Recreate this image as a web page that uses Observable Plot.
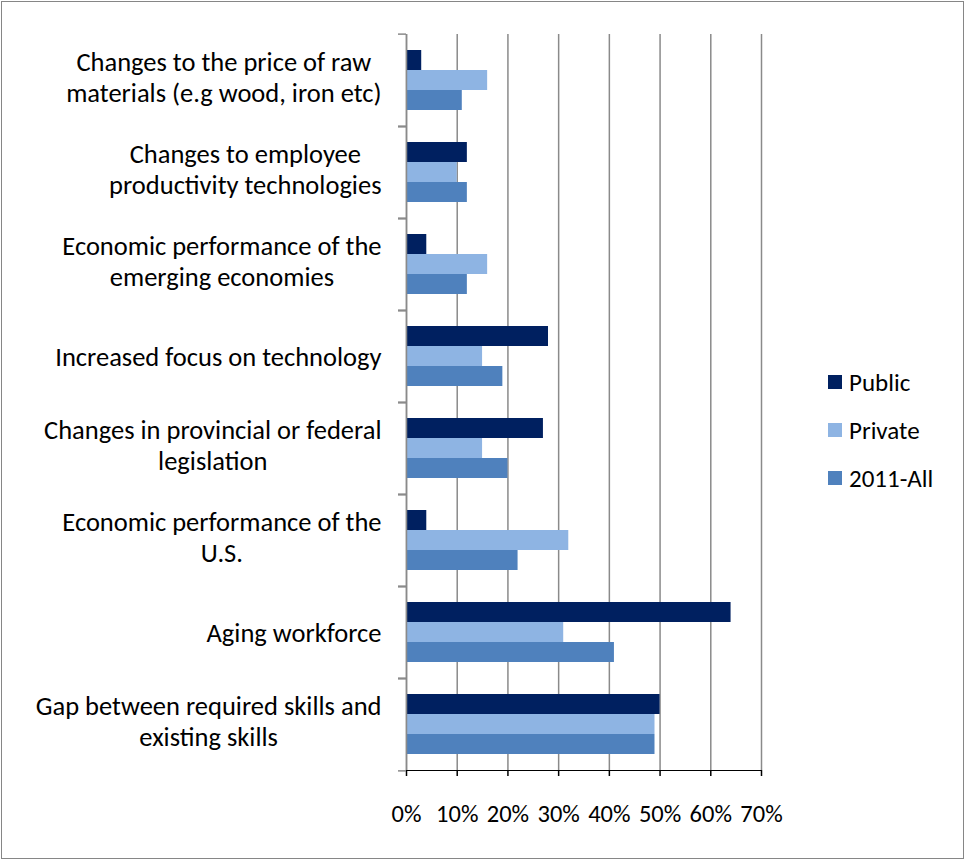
<!DOCTYPE html>
<html>
<head>
<meta charset="utf-8">
<script src="https://cdn.jsdelivr.net/npm/d3@7"></script>
<script src="https://cdn.jsdelivr.net/npm/@observablehq/plot@0.6"></script>
<style>
  html, body { margin: 0; padding: 0; background: #fff; }
  #wrap { position: relative; width: 965px; height: 861px; font-family: Carlito, Calibri, Lato, sans-serif; }
  #border { position: absolute; left: 1px; top: 1px; width: 961px; height: 856px; border: 1.5px solid #868686; pointer-events: none; }
  #legend { position: absolute; left: 828px; top: 358px; font-size: 25px; color: #000; }
  .item { display: flex; align-items: center; height: 48px; }
  .sw { width: 14px; height: 14px; margin-right: 7px; }
</style>
</head>
<body>
<div id="wrap">
  <div id="chart"></div>
  <div id="legend"></div>
  <div id="border"></div>
</div>
<script>
const categories = [
  "Changes to the price of raw\nmaterials (e.g wood, iron etc)",
  "Changes to employee\nproductivity technologies",
  "Economic performance of the\nemerging economies",
  "Increased focus on technology",
  "Changes in provincial or federal\nlegislation",
  "Economic performance of the\nU.S.",
  "Aging workforce",
  "Gap between required skills and\nexisting skills"
];
const series = ["Public", "Private", "2011-All"];
const publicValues  = [3, 12, 4, 28, 27, 4, 64, 50];
const privateValues = [16, 10, 16, 15, 15, 32, 31, 49];
const allValues     = [11, 12, 12, 19, 20, 22, 41, 49];
const xTicks = [0, 0.1, 0.2, 0.3, 0.4, 0.5, 0.6, 0.7];
const colors = ["#002060", "#8EB4E3", "#4F81BD"];

const seriesValues = [publicValues, privateValues, allValues];
const data = categories.flatMap((c, i) =>
  series.map((s, j) => ({category: c, series: s, value: seriesValues[j][i] / 100}))
);

const H = 861, mt = 31, mb = 88;
const half = (H - mt - mb) / categories.length / 2;

const chart = Plot.plot({
  width: 965,
  height: H,
  marginLeft: 406,
  marginRight: 204,
  marginTop: mt,
  marginBottom: mb,
  style: {fontFamily: "Carlito, Calibri, Lato, sans-serif", fontSize: "24.5px", color: "#000", background: "transparent"},
  x: {domain: [0, 0.7], ticks: xTicks, tickFormat: d3.format(".0%"), line: true, tickSize: 6, tickPadding: 28, label: null},
  y: {domain: series, axis: null, paddingInner: 0, paddingOuter: 0.7},
  fy: {domain: categories, padding: 0, axis: null},
  color: {domain: series, range: colors},
  marks: [
    Plot.gridX(xTicks, {stroke: "#8a8a8a", strokeOpacity: 1, strokeWidth: 1.5}),
    Plot.barX(data, {fy: "category", y: "series", x: "value", fill: "series"}),
    Plot.ruleX([0], {stroke: "#8a8a8a", strokeWidth: 1.5}),
    Plot.axisFy({anchor: "left", label: null, text: null, tickSize: 8, dy: -half, stroke: "#8a8a8a", strokeWidth: 1.5}),
    Plot.axisFy({anchor: "left", label: null, text: null, tickSize: 8, dy: half, stroke: "#8a8a8a", strokeWidth: 1.5}),
    Plot.text(categories.filter(c => c.includes("\n")), {fy: d => d, text: d => d, frameAnchor: "left", dx: -25, dy: -4, textAnchor: "end",
      fontSize: 26.5, lineHeight: 1.17, fill: "#000"}),
    Plot.text(categories.filter(c => !c.includes("\n")), {fy: d => d, text: d => d, frameAnchor: "left", dx: -25, dy: 1, textAnchor: "end",
      fontSize: 26.5, fill: "#000"})
  ]
});
document.getElementById("chart").appendChild(chart);

// center each multi-line label block with its right edge kept in place
const flat = new Set(categories.filter(c => c.includes("\n")).map(c => c.replace("\n", "")));
chart.querySelectorAll("text").forEach(t => {
  if (!flat.has(t.textContent)) return;
  const w = t.getBBox().width;
  t.setAttribute("text-anchor", "middle");
  t.querySelectorAll("tspan").forEach(s => s.setAttribute("text-anchor", "middle"));
  t.setAttribute("transform", (t.getAttribute("transform") || "") + ` translate(${-w / 2},0)`);
});
chart.querySelectorAll('[aria-label="x-axis line"], [aria-label="x-axis tick"]').forEach(g => {
  g.setAttribute("stroke", "#8a8a8a"); g.setAttribute("stroke-width", "1.5");
});

const legend = document.getElementById("legend");
series.forEach((s, i) => {
  const item = document.createElement("div");
  item.className = "item";
  item.innerHTML = `<div class="sw" style="background:${colors[i]}"></div><span>${s}</span>`;
  legend.appendChild(item);
});
</script>
</body>
</html>
